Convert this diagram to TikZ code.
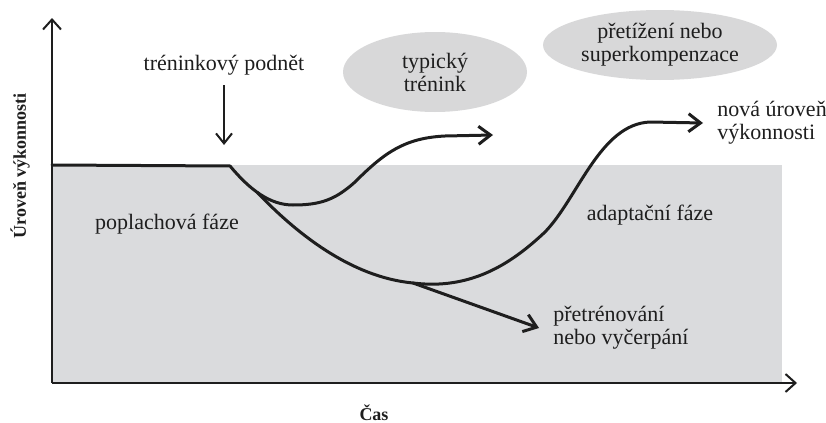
\documentclass[tikz,border=0pt]{standalone}
\usepackage{fontspec}
\setmainfont{Liberation Serif}
\usetikzlibrary{positioning, arrows.meta, shapes.geometric}
\definecolor{phasegray}{RGB}{218,219,221}
\definecolor{cloudgray}{RGB}{216,216,217}
\definecolor{inkblack}{RGB}{30,30,30}

\begin{document}
\begin{tikzpicture}[x=0.5pt, y=-0.5pt,
    curve/.style={line width=1.5pt, color=inkblack, line cap=round, line join=round},
    arrowcurve/.style={curve, -{Straight Barb[length=6pt, width=9pt]}},
    axis/.style={line width=1pt, color=inkblack, -{Straight Barb[length=5pt, width=9pt]}},
    pointer/.style={line width=1pt, color=inkblack, -{Straight Barb[length=5pt, width=8pt]}},
    labeltext/.style={font=\fontsize{11}{11.5}\selectfont, text=inkblack, inner sep=0pt},
    axislabel/.style={font=\fontsize{9}{10}\selectfont\bfseries, text=inkblack},
    cloud/.style={ellipse, fill=cloudgray, labeltext, align=center}]

    \useasboundingbox (0,0) rectangle (826,423);
    \fill[phasegray] (52,165) rectangle (782,383);

    % axes
    \coordinate (origin) at (52,383);
    \coordinate (ytip) at (52,18);
    \coordinate (xtip) at (797,383);
    \draw[axis] (origin) -- (ytip);
    \draw[axis] (origin) -- (xtip);
    \node[axislabel, rotate=90] (perf) at (20,166) {Úroveň výkonnosti};
    \node[axislabel] (time) at (374,413) {Čas};

    % stimulus
    \node[labeltext] (stimulus) at (224,65) {tréninkový podnět};
    \coordinate (stimtip) at (224,145);
    \draw[pointer, shorten <=5pt] (stimulus) -- (stimtip);

    \node[cloud, minimum width=92pt, minimum height=40pt] (typical) at (435,72) {typický\\trénink};
    \node[cloud, minimum width=117pt, minimum height=35pt] (overload) at (660,45) {přetížení nebo\\superkompenzace};

    % performance curves
    \coordinate (plateau) at (52,165);
    \coordinate (stim) at (230,166);
    \coordinate (typend) at (493,135);
    \coordinate (low) at (413,283);
    \coordinate (newend) at (703,123);
    \coordinate (overend) at (539,328);
    \draw[arrowcurve] (plateau) -- (stim) .. controls (250,190) and (270,205) .. (293,205) coordinate[pos=0.45] (fork)
        .. controls (320,205) and (335,200) .. (355,182) .. controls (385,152) and (405,138) .. (445,136) -- (typend);
    \draw[arrowcurve] (fork) .. controls (295,232) and (350,277) .. (low)
        .. controls (470,290) and (510,265) .. (545,232) .. controls (578,198) and (600,124) .. (650,122) -- (newend);
    \draw[arrowcurve] (low) -- (overend);

    \node[labeltext, align=left, right=7pt of newend] (newlevel) {nová úroveň\\výkonnosti};
    \node[labeltext, align=left, right=7pt of overend] (overtrain) {přetrénování\\nebo vyčerpání};
    \node[labeltext] (alarm) at (167,224) {poplachová fáze};
    \node[labeltext] (adapt) at (650,215) {adaptační fáze};
\end{tikzpicture}
\end{document}
